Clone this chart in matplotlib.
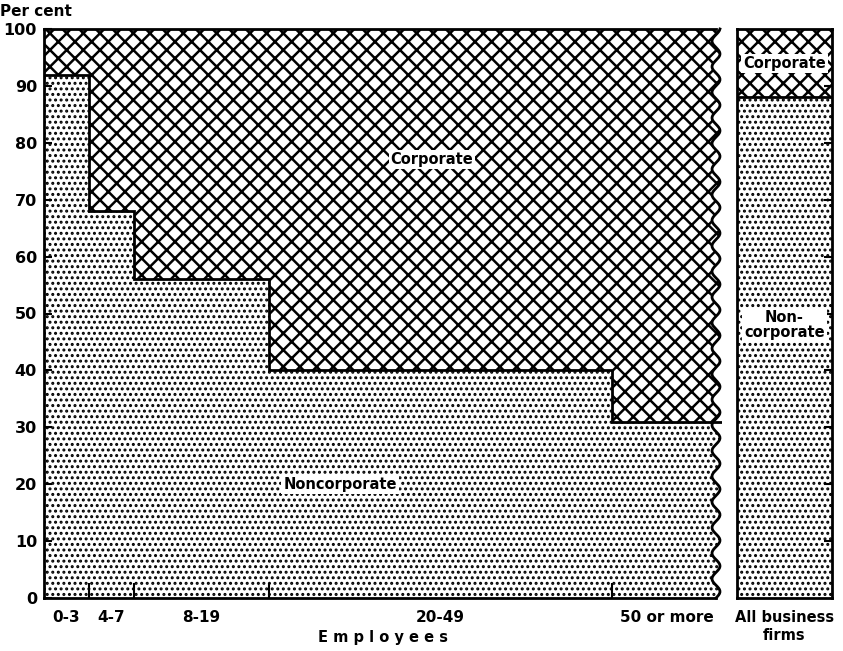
import numpy as np
import matplotlib.pyplot as plt
from matplotlib.patches import Polygon

# size classes (by number of employees) and share of noncorporate firms, per cent
size_classes = ['0-3', '4-7', '8-19', '20-49', '50 or more']
class_widths = [45, 45, 135, 343, 110]
noncorp_pct = [92, 68, 56, 40, 31]
all_firms_label = 'All business\nfirms'
all_firms_noncorp = 88

plt.rcParams['font.family'] = 'DejaVu Sans'
plt.rcParams['font.weight'] = 'bold'
plt.rcParams['axes.labelweight'] = 'bold'

edges = np.concatenate([[0], np.cumsum(class_widths)])
centers = (edges[:-1] + edges[1:]) / 2
corp_pct = [100 - v for v in noncorp_pct]

DOTS, CROSS = '...', 'xx'


def hatched_bar(ax, x, h, w, bottom, hatch, hlw):
    with plt.rc_context({'hatch.linewidth': hlw}):
        bars = ax.bar(x, h, width=w, bottom=bottom, align='edge',
                      facecolor='white', edgecolor='black', lw=0, hatch=hatch)
    for p in bars:
        if hasattr(p, 'set_hatch_linewidth'):
            p.set_hatch_linewidth(hlw)
    return bars


fig = plt.figure(figsize=(8.43, 6.51), dpi=100)
ax = fig.add_axes([44 / 843, 1 - 598 / 651, 678 / 843, 569 / 651])
ax2 = fig.add_axes([737 / 843, 1 - 598 / 651, 95 / 843, 569 / 651])

# main panel
nc_bars = hatched_bar(ax, edges[:-1], noncorp_pct, class_widths, 0, DOTS, 1.4)
c_bars = hatched_bar(ax, edges[:-1], corp_pct, class_widths, noncorp_pct, CROSS, 1.8)
ax.stairs(noncorp_pct, edges, baseline=None, color='black', lw=2)

# wavy right edge (the scale is broken there)
yy = np.linspace(0, 100, 400)
xw = edges[-1] - 6 + 4 * np.sin(2 * np.pi * yy / 4.5)
clip = Polygon(np.column_stack([np.r_[0, xw, 0], np.r_[0, yy, 100]]),
               closed=True, transform=ax.transData, facecolor='none', edgecolor='none')
ax.add_patch(clip)
for p in list(nc_bars) + list(c_bars):
    p.set_clip_path(clip)
ax.plot(xw, yy, color='black', lw=2, clip_on=False)

ax.set_xlim(0, edges[-1])
ax.set_ylim(0, 100)
ax.spines['right'].set_visible(False)
for s in ['left', 'top', 'bottom']:
    ax.spines[s].set_linewidth(2)
ax.spines['top'].set_bounds(0, edges[-1] - 6)
ax.spines['bottom'].set_bounds(0, edges[-1] - 6)

ax.set_yticks(range(0, 101, 10))
ax.tick_params(axis='y', direction='in', length=6, width=1.5, labelsize=11.5, pad=5)
ax.set_xticks(edges[1:-1])
ax.set_xticklabels([])
ax.tick_params(axis='x', which='major', direction='in', length=11, width=1.5)
ax.set_xticks(centers, minor=True)
ax.set_xticklabels(size_classes, minor=True)
ax.tick_params(axis='x', which='minor', length=0, labelsize=11, pad=9)
ax.set_xlabel('E m p l o y e e s', fontsize=10.5, labelpad=3)

box = dict(facecolor='white', edgecolor='none', pad=1.5)
ax.text(388, 77, 'Corporate', ha='center', va='center', fontsize=10.5, bbox=box)
ax.text(296, 20, 'Noncorporate', ha='center', va='center', fontsize=10.5, bbox=box)

fig.text(0.0, 1 - 12 / 651, 'Per cent', ha='left', va='center', fontsize=11)

# all business firms panel
hatched_bar(ax2, [0], [all_firms_noncorp], 1, 0, DOTS, 1.4)
hatched_bar(ax2, [0], [100 - all_firms_noncorp], 1, [all_firms_noncorp], CROSS, 1.8)
ax2.axhline(all_firms_noncorp, color='black', lw=2)
ax2.set_xlim(0, 1)
ax2.set_ylim(0, 100)
for s in ax2.spines.values():
    s.set_linewidth(2)
ax2.set_xticks([0.5])
ax2.set_xticklabels([all_firms_label])
ax2.tick_params(axis='x', length=0, labelsize=10.5, pad=9)
ax2.set_yticks(range(10, 100, 10))
ax2.yaxis.tick_right()
ax2.tick_params(axis='y', direction='in', length=6, width=1.5, labelright=False)
ax2.text(0.5, 94, 'Corporate', ha='center', va='center', fontsize=10.5, bbox=box)
ax2.text(0.5, 48, 'Non-\ncorporate', ha='center', va='center', fontsize=10.5,
         linespacing=1.0, bbox=box)

fig.savefig('out.png', dpi=100)
